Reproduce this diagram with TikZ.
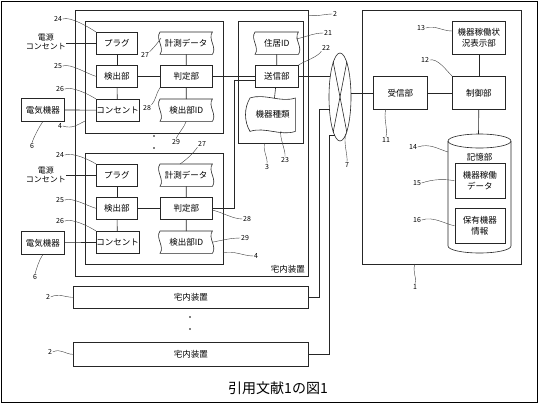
\documentclass[tikz,border=0pt]{standalone}
\usepackage{fontspec}
\setmainfont{Noto Sans CJK JP}
\newfontfamily\jp{Noto Sans CJK JP}
\usetikzlibrary{shapes.geometric,calc}
\tikzset{
  ln/.style={line width=0.6pt, draw=black!85},
  blk/.style={ln, draw, inner sep=0pt, anchor=north west, align=center,
    font=\jp\fontsize{8.5}{11}\selectfont},
  txt/.style={inner sep=0pt, anchor=north west, align=center,
    font=\jp\fontsize{8.5}{11}\selectfont},
  num/.style={inner sep=0.5pt, font=\jp\fontsize{7}{8}\selectfont},
  lbl/.style={inner sep=0pt, align=center, font=\jp\fontsize{8}{9.5}\selectfont},
  lead/.style={line width=0.4pt, draw=black!75},
  frame/.style={ln, draw},
  dotm/.style={circle, fill=black, inner sep=0pt, minimum size=1.6pt}
}
\newcommand{\tapeshape}[1]{%
  \draw[ln] (#1.north west) .. controls +(-5,7) and +(5,-7) .. (#1.south west)
    -- (#1.south east) .. controls +(5,-7) and +(-5,7) .. (#1.north east) -- cycle;}
\begin{document}
\begin{tikzpicture}[x=1pt,y=-1pt]
\useasboundingbox (0,0) rectangle (538,405);
\draw[line width=0.8pt] (1,1) rectangle (537,402);

% ---------------- box 2 (home device)
\node[frame, draw, inner sep=0, anchor=north west, minimum width=233pt, minimum height=266pt] (home) at (75,10) {};
\node[txt, anchor=south east] (homelbl) at (305,273) {宅内装置};

% ---- group 1 (box 4 top)
\node[frame, draw, inner sep=0, anchor=north west, minimum width=138pt, minimum height=112pt] (b4a) at (85,21) {};
\node[blk, minimum width=41pt, minimum height=22pt] (plug1) at (96,32) {プラグ};
\node[blk, minimum width=41pt, minimum height=22pt] (det1) at (96,65) {検出部};
\node[blk, minimum width=41pt, minimum height=22pt] (out1) at (96,99) {コンセント};
\node[txt, minimum width=52pt, minimum height=22pt] (meas1) at (160,32) {計測データ};
\tapeshape{meas1}
\node[blk, minimum width=52pt, minimum height=22pt] (j1) at (160,65) {判定部};
\node[txt, minimum width=52pt, minimum height=22pt] (id1) at (160,99) {検出部ID};
\tapeshape{id1}
\node[blk, minimum width=43pt, minimum height=23pt] (dev1) at (21,98) {電気機器};
\node[lbl, anchor=east] (src1) at (66,42) {電源\\コンセント};
\draw[ln] (plug1) -- (det1);
\draw[ln] (det1) -- (out1);
\draw[ln] (det1) -- (j1);
\draw[ln] (meas1) -- (j1);
\draw[ln] (j1) -- (id1);
\draw[ln] (dev1) -- (out1);
\draw[ln] (plug1.west) -- (plug1.west -| src1.east);

% ---- group 2 (box 4 bottom)
\node[frame, draw, inner sep=0, anchor=north west, minimum width=138pt, minimum height=111pt] (b4b) at (85,153) {};
\node[blk, minimum width=41pt, minimum height=22pt] (plug2) at (96,164) {プラグ};
\node[blk, minimum width=41pt, minimum height=22pt] (det2) at (96,197) {検出部};
\node[blk, minimum width=41pt, minimum height=22pt] (out2) at (96,231) {コンセント};
\node[txt, minimum width=52pt, minimum height=22pt] (meas2) at (160,164) {計測データ};
\tapeshape{meas2}
\node[blk, minimum width=52pt, minimum height=22pt] (j2) at (160,197) {判定部};
\node[txt, minimum width=52pt, minimum height=22pt] (id2) at (160,231) {検出部ID};
\tapeshape{id2}
\node[blk, minimum width=43pt, minimum height=23pt] (dev2) at (21,231) {電気機器};
\node[lbl, anchor=east] (src2) at (66,175) {電源\\コンセント};
\draw[ln] (plug2) -- (det2);
\draw[ln] (det2) -- (out2);
\draw[ln] (det2) -- (j2);
\draw[ln] (meas2) -- (j2);
\draw[ln] (j2) -- (id2);
\draw[ln] (dev2) -- (out2);
\draw[ln] (plug2.west) -- (plug2.west -| src2.east);

% dots
\node[dotm] (d1) at (154,136) {};
\node[dotm] (d2) at (154,148) {};

% ---- box 3
\node[frame, draw, inner sep=0, anchor=north west, minimum width=65pt, minimum height=122pt] (b3) at (238,21) {};
\node[txt, minimum width=43pt, minimum height=22pt] (rid) at (255,32) {住居ID};
\tapeshape{rid}
\node[blk, minimum width=43pt, minimum height=22pt] (tx) at (255,65) {送信部};
\node[txt, minimum width=45pt, minimum height=33pt] (kind) at (250,98) {機器種類};
\draw[ln] (kind.north west) .. controls +(15,-5) and +(-15,5) .. (kind.north east)
  -- (kind.south east) .. controls +(-15,5) and +(15,-5) .. (kind.south west)
  .. controls +(-6,-10) and +(-6,10) .. (kind.north west) -- cycle;
\draw[ln] (rid) -- (tx);
\draw[ln] (tx) -- (kind);

% ---- network 7
\node[ln, draw, ellipse, inner sep=0pt, minimum width=22pt, minimum height=88pt] (net) at (340,97) {};
\draw[ln] (net.101) -- (net.-79);
\draw[ln] (net.79) -- (net.-101);

% connections
\draw[ln] (j1.east) -- (j1.east -| tx.west);
\coordinate (c2) at (234,80);
\draw[ln] (j2.east) -| (c2) -- (c2 -| tx.west);
\draw[ln] (tx.east) -- (tx.east -| net.115);

% ---- other homes
\node[blk, minimum width=235pt, minimum height=22pt] (hA) at (73,286) {宅内装置};
\node[blk, minimum width=235pt, minimum height=24pt] (hB) at (73,342) {宅内装置};
\node[dotm] (d3) at (190,317) {};
\node[dotm] (d4) at (190,329) {};
\coordinate (cA) at (319,109);
\coordinate (nA) at (329.6,109);
\draw[ln] (hA.east) -| (cA) -- (nA);
\coordinate (cB) at (329,135);
\coordinate (nB) at (334.5,135);
\draw[ln] (hB.east) -| (cB) -- (nB);

% ---- box 1 (server)
\node[frame, draw, inner sep=0, anchor=north west, minimum width=159pt, minimum height=254pt] (srv) at (362,10) {};
\node[blk, minimum width=54pt, minimum height=33pt] (rx) at (373,76) {受信部};
\node[blk, minimum width=53pt, minimum height=33pt] (ctl) at (452,76) {制御部};
\node[blk, minimum width=53pt, minimum height=33pt] (disp) at (452,21) {機器稼働状\\況表示部};
\draw[ln] (448,141) -- (448,246) arc[start angle=180, end angle=360, x radius=31.5pt, y radius=7pt] -- (511,141);
\draw[ln] (479.5,141) ellipse[x radius=31.5pt, y radius=7pt];
\coordinate (memtop) at (478.5,134);
\node[txt, anchor=center] (mem) at (479.5,157) {記憶部};
\node[blk, minimum width=50pt, minimum height=35pt] (opd) at (454.5,163) {機器稼働\\データ};
\node[blk, minimum width=50pt, minimum height=35pt] (own) at (454.5,208) {保有機器\\情報};
\draw[ln] (net.east |- rx.west) -- (rx.west);
\draw[ln] (rx) -- (ctl);
\draw[ln] (disp) -- (ctl);
\draw[ln] (ctl.south) -- (memtop);

% ---------------- reference numbers and leaders
% group 1
\node[num] (n24a) at (58,19) {24};
\draw[lead] (n24a.east) .. controls +(8,-3) and +(-6,-4) .. (plug1.north west);
\node[num] (n27a) at (145,55) {27};
\draw[lead] (n27a.north east) .. controls +(4,-4) and +(-4,6) .. (161,38);
\node[num] (n25a) at (58,66) {25};
\draw[lead] (n25a.east) .. controls +(8,-3) and +(-8,-2) .. (det1.west);
\node[num] (n26a) at (60,89) {26};
\draw[lead] (n26a.east) .. controls +(8,-3) and +(-6,-4) .. (out1.north west);
\node[num] (n28a) at (147,108) {28};
\draw[lead] (n28a.north east) .. controls +(4,-4) and +(-4,6) .. (j1.south west);
\node[num] (n4a) at (60,126) {4};
\draw[lead] (n4a.east) .. controls +(10,3) and +(-8,4) .. (85,121);
\node[num] (n6a) at (32,146) {6};
\draw[lead] (dev1.south) .. controls +(-4,6) and +(2,-6) .. (n6a.north);
\node[num] (n29a) at (176,142) {29};
\draw[lead] (id1.south) .. controls +(-2,6) and +(2,-5) .. (n29a.north);
% group 2
\node[num] (n27b) at (202,144) {27};
\draw[lead] (n27b.south west) .. controls +(-4,6) and +(6,-4) .. (180,164);
\node[num] (n24b) at (60,155) {24};
\draw[lead] (n24b.east) .. controls +(8,-3) and +(-6,-4) .. (plug2.north west);
\node[num] (n25b) at (60,200) {25};
\draw[lead] (n25b.east) .. controls +(8,-3) and +(-8,-2) .. (det2.west);
\node[num] (n26b) at (60,221) {26};
\draw[lead] (n26b.east) .. controls +(8,-3) and +(-6,-4) .. (out2.north west);
\node[num] (n28b) at (247,219) {28};
\coordinate (j2p) at (212,210);
\draw[lead] (j2p) .. controls +(10,2) and +(-10,0) .. (n28b.west);
\node[num] (n29b) at (245,238) {29};
\draw[lead] (id2.east) .. controls +(10,-2) and +(-10,0) .. (n29b.west);
\node[num] (n4b) at (256,256) {4};
\coordinate (b4bp) at (223,253);
\draw[lead] (b4bp) .. controls +(10,-3) and +(-10,0) .. (n4b.west);
\node[num] (n6b) at (35,277) {6};
\draw[lead] (dev2.south) .. controls +(-4,6) and +(2,-6) .. (n6b.north);
% box 2 / 3
\node[num] (n2a) at (335,14) {2};
\coordinate (homep) at (308,15);
\draw[lead] (homep) .. controls +(8,2) and +(-8,0) .. (n2a.west);
\node[num] (n21) at (328,33) {21};
\coordinate (ridp) at (296,39);
\draw[lead] (ridp) .. controls +(10,-2) and +(-10,0) .. (n21.west);
\node[num] (n22) at (326,48) {22};
\draw[lead] (tx.north east) .. controls +(6,-4) and +(-4,6) .. (n22.south west);
\node[num] (n3) at (267,167) {3};
\coordinate (b3p) at (265,143);
\draw[lead] (b3p) .. controls +(-3,6) and +(1,-6) .. (n3.north);
\node[num] (n23) at (285,160) {23};
\coordinate (kindp) at (281,131);
\draw[lead] (kindp) .. controls +(-2,6) and +(1,-6) .. (n23.north);
\node[num] (n7) at (347,165) {7};
\draw[lead] (net.-80) .. controls +(-4,6) and +(1,-6) .. (n7.north);
% box 1
\node[num] (n13) at (421,28) {13};
\draw[lead] (n13.east) .. controls +(10,-3) and +(-10,0) .. (disp.west |- 0,31);
\node[num] (n12) at (425,60) {12};
\draw[lead] (n12.east) .. controls +(8,-2) and +(-6,-6) .. (ctl.north west);
\node[num] (n11) at (386,140) {11};
\coordinate (rxp) at (386,109);
\draw[lead] (rxp) .. controls +(-3,8) and +(2,-8) .. (n11.north);
\node[num] (n14) at (413,147) {14};
\draw[lead] (n14.east) .. controls +(12,-4) and +(-10,-3) .. (448,152);
\node[num] (n15) at (417,183) {15};
\draw[lead] (n15.east) .. controls +(12,-4) and +(-10,-2) .. (opd.west);
\node[num] (n16) at (417,220) {16};
\draw[lead] (n16.east) .. controls +(12,-4) and +(-10,-2) .. (own.west);
\node[num] (n1) at (415,287) {1};
\coordinate (srvp) at (415,264);
\draw[lead] (srvp) .. controls +(-3,8) and +(2,-8) .. (n1.north);
% other homes
\node[num] (n2b) at (48,297) {2};
\draw[lead] (n2b.east) .. controls +(8,-4) and +(-8,0) .. (hA.west);
\node[num] (n2c) at (50,352) {2};
\draw[lead] (n2c.east) .. controls +(8,-4) and +(-8,0) .. (hB.west);

% caption
\node[inner sep=0pt, font=\jp\fontsize{14}{16}\selectfont] (cap) at (278,388) {引用文献1の図1};
\end{tikzpicture}
\end{document}
